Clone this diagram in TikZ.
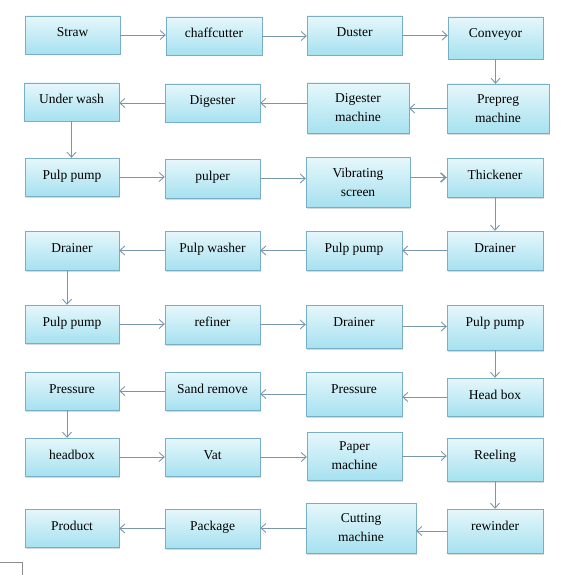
\documentclass[tikz,border=0pt]{standalone}
\usepackage{fontspec}
\setmainfont{Liberation Serif}
\usepackage{tikz}
\usetikzlibrary{arrows.meta}
\usetikzlibrary{shadows}
\definecolor{boxline}{HTML}{78AFC6}
\definecolor{boxtop}{HTML}{E6F7FB}
\definecolor{boxbot}{HTML}{A6E1F0}
\definecolor{arrline}{HTML}{7A96AA}

\begin{document}
\begin{tikzpicture}[x=1pt,y=-1pt,
    every node/.style={draw=boxline,top color=boxtop,bottom color=boxbot,
        drop shadow={shadow xshift=1.2pt,shadow yshift=-1.5pt,fill=black!30,opacity=.5},
        font=\fontsize{13.5}{19}\selectfont,inner ysep=0pt,minimum width=95pt},
    one/.style={text height=21pt,text depth=#1},
    two/.style={align=center,minimum height=#1},
    arr/.style={-{Straight Barb[length=5pt,width=9pt]},draw=arrline,line width=.9pt}]
    \useasboundingbox (0,0) rectangle (563,575);
            % row 1
            \node[one=17pt] (straw) at (72.5,35) {Straw};
            \node[one=17pt,minimum width=96pt] (chaff) at (214,36) {chaffcutter};
            \node[one=18pt] (duster) at (354.5,35.5) {Duster};
            \node[one=21pt] (conveyor) at (495.5,38) {Conveyor};
            % row 2
            \node[one=17pt] (underwash) at (71.5,102) {Under wash};
            \node[one=17pt] (digester) at (212.5,103) {Digester};
            \node[two=50pt,minimum width=102pt] (digmach) at (358,108) {Digester\\machine};
            \node[two=49pt,minimum width=102pt] (prepreg) at (498,108.5) {Prepreg\\machine};
            % row 3
            \node[one=17pt,minimum width=94pt] (pumpA) at (72,177) {Pulp pump};
            \node[one=18pt] (pulper) at (212.5,178.5) {pulper};
            \node[two=50pt,minimum width=104pt] (screen) at (358,182) {Vibrating\\screen};
            \node[one=18pt,minimum width=96pt] (thick) at (495,177.5) {Thickener};
            % row 4
            \node[one=18pt,minimum width=94pt] (drainA) at (72,250.5) {Drainer};
            \node[one=18pt] (washer) at (212.5,250.5) {Pulp washer};
            \node[one=18pt,minimum width=96pt] (pumpB) at (354,250.5) {Pulp pump};
            \node[one=18pt,minimum width=96pt] (drainB) at (495,250.5) {Drainer};
            % row 5
            \node[one=17pt,minimum width=94pt] (pumpC) at (72,324) {Pulp pump};
            \node[one=18pt] (refiner) at (212.5,324.5) {refiner};
            \node[one=22pt,minimum width=96pt] (drainC) at (354,326.5) {Drainer};
            \node[one=24pt,minimum width=96pt] (pumpD) at (495,327.5) {Pulp pump};
            % row 6
            \node[one=17pt,minimum width=94pt] (pressA) at (72,391) {Pressure};
            \node[one=17pt] (sand) at (212.5,391) {Sand remove};
            \node[one=23pt,minimum width=96pt] (pressB) at (354,394) {Pressure};
            \node[one=17pt,minimum width=96pt] (headA) at (495,397) {Head box};
            % row 7
            \node[one=17pt,minimum width=94pt] (headB) at (72,457) {headbox};
            \node[one=17pt] (vat) at (212.5,457) {Vat};
            \node[two=48pt] (paper) at (354.5,456) {Paper\\machine};
            \node[one=22pt,minimum width=96pt] (reel) at (495,459.5) {Reeling};
            % row 8
            \node[one=17pt,minimum width=94pt] (product) at (72,528) {Product};
            \node[one=18pt] (package) at (212.5,528.5) {Package};
            \node[two=50pt,minimum width=110pt] (cutting) at (361,528) {Cutting\\machine};
            \node[one=23pt,minimum width=96pt] (rewinder) at (495,531) {rewinder};

            \foreach \a/\b in {straw/chaff,chaff/duster,duster/conveyor,pumpA/pulper,
                pulper/screen,pumpC/refiner,refiner/drainC,drainC/pumpD,
                headB/vat,vat/paper,paper/reel}
                \draw[arr] (\a) -- (\a -| \b.west);
            \draw[arr,line width=1.5pt] (screen.east |- thick) -- (thick);
            \foreach \a/\b in {prepreg/digmach,digester/underwash,drainB/pumpB,pumpB/washer,
                washer/drainA,headA/pressB,pressB/sand,sand/pressA,rewinder/cutting,
                cutting/package,package/product}
                \draw[arr] (\a) -- (\a -| \b.east);
            \draw[arr] (digmach.west |- digester) -- (digester);
            \foreach \a/\b in {conveyor/prepreg,underwash/pumpA,thick/drainB,pumpD/headA,reel/rewinder}
                \draw[arr] (\a) -- (\a |- \b.north);
            \foreach \a/\b in {drainA/pumpC,pressA/headB}
                \draw[arr] ([xshift=-5pt]\a.south) -- ([xshift=-5pt]\a.south |- \b.north);
            \draw[black!45,line width=.6pt] (0,562) -- (22,562) -- (22,575);
        \end{tikzpicture}
\end{document}
